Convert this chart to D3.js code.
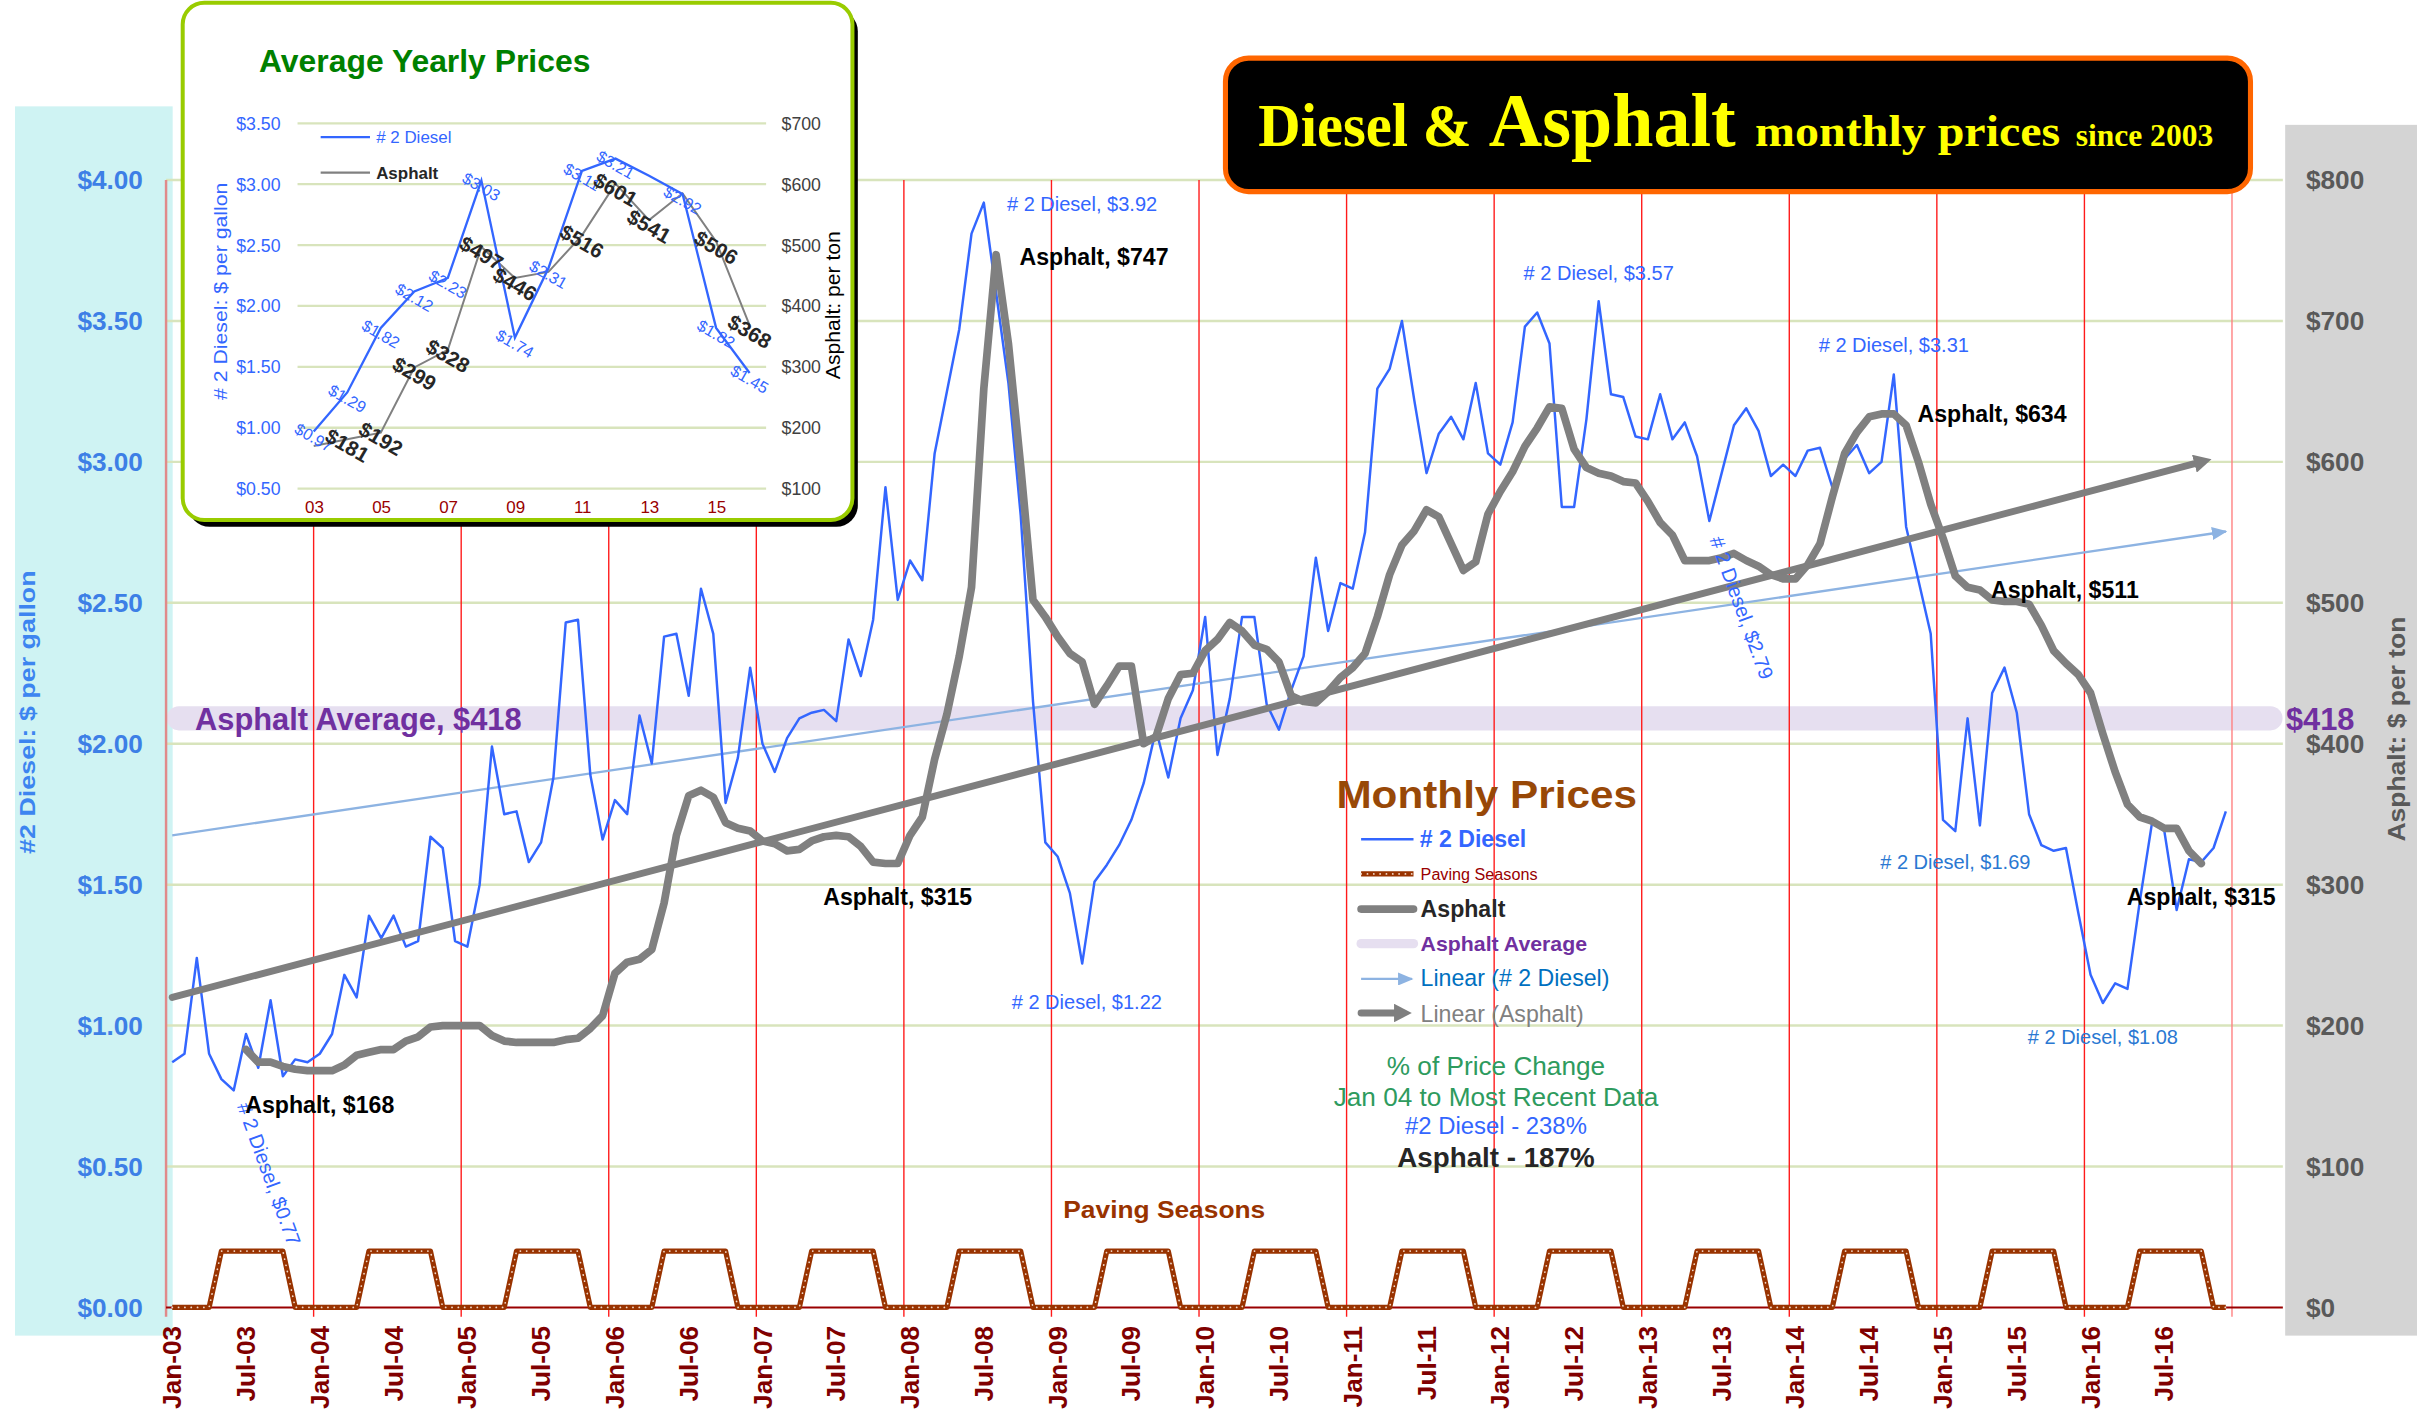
<!DOCTYPE html>
<html>
<head>
<meta charset="utf-8">
<title>Diesel &amp; Asphalt monthly prices since 2003</title>
<script src="https://cdn.jsdelivr.net/npm/d3@7"></script>
<style>
  body { margin: 0; background: #fff; }
  svg text { font-family: "Liberation Sans", Arial, sans-serif; }
</style>
</head>
<body>
<svg id="chart"></svg>
<script>
// #2 diesel, $ per gallon, one value a month, Jan-03 .. Dec-16
var diesel = [
  0.87, 0.90, 1.24, 0.90, 0.81, 0.77, 0.97, 0.85, 1.09, 0.82, 0.88, 0.87, // 2003
  0.90, 0.97, 1.18, 1.10, 1.39, 1.31, 1.39, 1.28, 1.30, 1.67, 1.63, 1.30, // 2004
  1.28, 1.50, 1.99, 1.75, 1.76, 1.58, 1.65, 1.88, 2.43, 2.44, 1.89, 1.66, // 2005
  1.80, 1.75, 2.10, 1.93, 2.38, 2.39, 2.17, 2.55, 2.39, 1.79, 1.95, 2.27, // 2006
  2.00, 1.90, 2.02, 2.09, 2.11, 2.12, 2.08, 2.37, 2.24, 2.44, 2.91, 2.51, // 2007
  2.65, 2.58, 3.03, 3.25, 3.47, 3.81, 3.92, 3.60, 3.28, 2.81, 2.15, 1.65, // 2008
  1.60, 1.47, 1.22, 1.51, 1.57, 1.64, 1.73, 1.86, 2.05, 1.88, 2.09, 2.19, // 2009
  2.45, 1.96, 2.16, 2.45, 2.45, 2.14, 2.05, 2.19, 2.31, 2.66, 2.40, 2.57, // 2010
  2.55, 2.75, 3.26, 3.33, 3.50, 3.22, 2.96, 3.10, 3.16, 3.08, 3.28, 3.03, // 2011
  2.99, 3.14, 3.48, 3.53, 3.42, 2.84, 2.84, 3.15, 3.57, 3.24, 3.23, 3.09, // 2012
  3.08, 3.24, 3.08, 3.14, 3.02, 2.79, 2.96, 3.13, 3.19, 3.11, 2.95, 2.99, // 2013
  2.95, 3.04, 3.05, 2.91, 3.01, 3.06, 2.96, 3.00, 3.31, 2.77, 2.58, 2.39, // 2014
  1.73, 1.69, 2.09, 1.71, 2.18, 2.27, 2.11, 1.75, 1.64, 1.62, 1.63, 1.40, // 2015
  1.18, 1.08, 1.15, 1.13, 1.44, 1.72, 1.69, 1.41, 1.59, 1.58, 1.63, 1.76  // 2016
];

// asphalt, $ per ton, starts Jul-03 (month index 6), ends Oct-16
var asphaltStart = 6;
var asphalt = [
                                183, 174, 174, 171, 169, 168, // 2003
  168, 168, 172, 179, 181, 183, 183, 189, 192, 199, 200, 200, // 2004
  200, 200, 193, 189, 188, 188, 188, 188, 190, 191, 198, 207, // 2005
  237, 245, 247, 254, 287, 335, 363, 367, 362, 344, 340, 338, // 2006
  331, 329, 324, 325, 331, 334, 335, 334, 327, 316, 315, 315, // 2007
  335, 348, 389, 421, 462, 511, 652, 747, 684, 597, 502, 490, // 2008
  476, 464, 458, 428, 441, 455, 455, 400, 405, 432, 449, 450, // 2009
  466, 474, 486, 480, 470, 467, 458, 434, 430, 429, 437, 447, // 2010
  454, 464, 490, 520, 541, 551, 566, 561, 542, 523, 529, 563, // 2011
  579, 593, 611, 624, 639, 638, 609, 596, 592, 590, 586, 585, // 2012
  572, 557, 548, 530, 530, 530, 532, 535, 530, 526, 520, 517, // 2013
  517, 527, 542, 575, 606, 621, 632, 634, 634, 626, 600, 570, // 2014
  546, 519, 511, 509, 502, 501, 501, 499, 484, 466, 457, 449, // 2015
  436, 407, 380, 357, 348, 345, 340, 340, 324, 315            // 2016
];

// paving seasons marker ($0.20 while paving, May..Oct)
var paving = [
  0, 0, 0, 0, 0.2, 0.2, 0.2, 0.2, 0.2, 0.2, 0, 0,
  0, 0, 0, 0, 0.2, 0.2, 0.2, 0.2, 0.2, 0.2, 0, 0,
  0, 0, 0, 0, 0.2, 0.2, 0.2, 0.2, 0.2, 0.2, 0, 0,
  0, 0, 0, 0, 0.2, 0.2, 0.2, 0.2, 0.2, 0.2, 0, 0,
  0, 0, 0, 0, 0.2, 0.2, 0.2, 0.2, 0.2, 0.2, 0, 0,
  0, 0, 0, 0, 0.2, 0.2, 0.2, 0.2, 0.2, 0.2, 0, 0,
  0, 0, 0, 0, 0.2, 0.2, 0.2, 0.2, 0.2, 0.2, 0, 0,
  0, 0, 0, 0, 0.2, 0.2, 0.2, 0.2, 0.2, 0.2, 0, 0,
  0, 0, 0, 0, 0.2, 0.2, 0.2, 0.2, 0.2, 0.2, 0, 0,
  0, 0, 0, 0, 0.2, 0.2, 0.2, 0.2, 0.2, 0.2, 0, 0,
  0, 0, 0, 0, 0.2, 0.2, 0.2, 0.2, 0.2, 0.2, 0, 0,
  0, 0, 0, 0, 0.2, 0.2, 0.2, 0.2, 0.2, 0.2, 0, 0,
  0, 0, 0, 0, 0.2, 0.2, 0.2, 0.2, 0.2, 0.2, 0, 0,
  0, 0, 0, 0, 0.2, 0.2, 0.2, 0.2, 0.2, 0.2, 0, 0
];

var asphaltAverage = 418;
// linear trend ends [month index, value]
var dieselTrend = [[0, 1.675], [167, 2.753]];
var asphaltTrend = [[0, 220], [165, 600]];

// inset: average yearly prices
var years = [2003, 2004, 2005, 2006, 2007, 2008, 2009, 2010, 2011, 2012, 2013, 2014, 2015, 2016];
var dieselYear = [0.97, 1.29, 1.82, 2.12, 2.23, 3.03, 1.74, 2.31, 3.11, 3.21, 3.07, 2.92, 1.82, 1.45];
var asphaltYear = [170, 181, 192, 299, 328, 497, 446, 456, 516, 601, 541, 585, 506, 368];
var dieselYearShown = [2003, 2004, 2005, 2006, 2007, 2008, 2009, 2010, 2011, 2012, 2014, 2015, 2016];
var asphaltYearShown = [2004, 2005, 2006, 2007, 2008, 2009, 2011, 2012, 2013, 2015, 2016];

var W = 1568, H = 918;
var svg = d3.select("#chart")
  .attr("width", 2417).attr("height", 1415)
  .attr("viewBox", "0 0 " + W + " " + H);

var x = d3.scaleLinear().domain([0, 168]).range([107.7, 1448]);
var yL = d3.scaleLinear().domain([0, 4]).range([848.2, 116.8]);
var yR = d3.scaleLinear().domain([0, 800]).range([848.2, 116.8]);
function mid(i) { return x(i + 0.5); }

var defs = svg.append("defs");
function arrow(id, color, w, h, refX) {
  defs.append("marker").attr("id", id)
    .attr("viewBox", "0 0 10 10").attr("preserveAspectRatio", "none")
    .attr("markerUnits", "userSpaceOnUse")
    .attr("markerWidth", w).attr("markerHeight", h)
    .attr("refX", refX).attr("refY", 5).attr("orient", "auto")
    .append("path").attr("d", "M0,0L10,5L0,10Z").attr("fill", color);
}
arrow("arrBlue", "#8db3e2", 10, 8.5, 9);
arrow("arrGray", "#7f7f7f", 11.5, 12, 4);

function txt(g, px, py, s, size, color, weight, anchor) {
  return g.append("text").attr("x", px).attr("y", py).text(s)
    .attr("font-size", size).attr("fill", color)
    .attr("font-weight", weight || "normal")
    .attr("text-anchor", anchor || "start");
}

// side panels
svg.append("rect").attr("x", 9.7).attr("y", 69).attr("width", 102.3).attr("height", 797.5).attr("fill", "#cff3f3");
svg.append("rect").attr("x", 1482.5).attr("y", 81).attr("width", 86).attr("height", 785.5).attr("fill", "#d4d4d4");

// horizontal grid
svg.append("g").selectAll("line")
  .data(d3.range(0.5, 4.01, 0.5))
  .enter().append("line")
  .attr("x1", x(0)).attr("x2", 1481)
  .attr("y1", function(d) { return yL(d); })
  .attr("y2", function(d) { return yL(d); })
  .attr("stroke", "#d8e4bc").attr("stroke-width", 1.6);

// asphalt average band
svg.append("line")
  .attr("x1", 116).attr("x2", 1473)
  .attr("y1", yR(asphaltAverage)).attr("y2", yR(asphaltAverage))
  .attr("stroke", "#e6dff0").attr("stroke-width", 15.6).attr("stroke-linecap", "round");

// yearly red lines
svg.append("g").selectAll("line")
  .data(d3.range(0, 169, 12))
  .enter().append("line")
  .attr("x1", function(d) { return x(d); })
  .attr("x2", function(d) { return x(d); })
  .attr("y1", yL(4)).attr("y2", yL(0) + 6)
  .attr("stroke", function(d) { return d === 0 ? "#e08a8a" : (d === 168 ? "#ff8080" : "#ff1a1a"); })
  .attr("stroke-width", function(d) { return d === 0 ? 1.6 : 0.9; });

// baseline
svg.append("line").attr("x1", x(0)).attr("x2", 1481)
  .attr("y1", yL(0)).attr("y2", yL(0))
  .attr("stroke", "#990000").attr("stroke-width", 1.3);

// axes
var axL = svg.append("g").attr("transform", "translate(" + x(0) + ",0)")
  .call(d3.axisLeft(yL).tickValues(d3.range(0, 4.01, 0.5)).tickFormat(d3.format("$.2f")).tickSize(0).tickPadding(15));
axL.select(".domain").remove();
axL.selectAll("text").attr("font-size", 17).attr("font-weight", "bold").attr("fill", "#3d7fe6");

var axR = svg.append("g").attr("transform", "translate(1482,0)")
  .call(d3.axisRight(yR).tickValues(d3.range(0, 801, 100)).tickFormat(function(d) { return "$" + d; }).tickSize(0).tickPadding(14));
axR.select(".domain").remove();
axR.selectAll("text").attr("font-size", 17).attr("font-weight", "bold").attr("fill", "#595959");

var monthFmt = d3.timeFormat("%b-%y");
var axB = svg.append("g").attr("transform", "translate(0," + yL(0) + ")")
  .call(d3.axisBottom(x).tickValues(d3.range(0, 168, 6))
    .tickFormat(function(m) { return monthFmt(new Date(2003, m, 1)); }).tickSize(0));
axB.select(".domain").remove();
axB.selectAll("text")
  .attr("transform", "rotate(-90)")
  .attr("x", -12).attr("y", 0).attr("dy", "0.55em")
  .style("text-anchor", "end")
  .attr("font-size", 17).attr("font-weight", "bold").attr("fill", "#800000");

// axis titles
svg.append("text").attr("transform", "translate(22.5,462) rotate(-90)")
  .attr("text-anchor", "middle").attr("font-size", 14.5).attr("font-weight", "bold")
  .attr("fill", "#3d85f0").attr("textLength", 184).attr("lengthAdjust", "spacingAndGlyphs")
  .text("#2 Diesel: $ per gallon");
svg.append("text").attr("transform", "translate(1560,473) rotate(-90)")
  .attr("text-anchor", "middle").attr("font-size", 15).attr("font-weight", "bold")
  .attr("fill", "#595959").attr("textLength", 146).attr("lengthAdjust", "spacingAndGlyphs")
  .text("Asphalt: $ per ton");

// trend lines
var trendD = d3.line().x(function(d) { return mid(d[0]); }).y(function(d) { return yL(d[1]); });
var trendA = d3.line().x(function(d) { return mid(d[0]); }).y(function(d) { return yR(d[1]); });
svg.append("path").attr("d", trendD(dieselTrend))
  .attr("fill", "none").attr("stroke", "#8db3e2").attr("stroke-width", 1.5)
  .attr("marker-end", "url(#arrBlue)");

// diesel
var lineD = d3.line().x(function(d, i) { return mid(i); }).y(function(d) { return yL(d); });
svg.append("path").attr("d", lineD(diesel))
  .attr("fill", "none").attr("stroke", "#3366ff").attr("stroke-width", 1.6).attr("stroke-linejoin", "round");

// paving seasons
svg.append("path").attr("d", lineD(paving))
  .attr("fill", "none").attr("stroke", "#993300").attr("stroke-width", 3.4).attr("stroke-linejoin", "round");
svg.append("path").attr("d", lineD(paving))
  .attr("fill", "none").attr("stroke", "#f2d9c9").attr("stroke-width", 1.1)
  .attr("stroke-dasharray", "0.1,4").attr("stroke-linecap", "round");

svg.append("path").attr("d", trendA(asphaltTrend))
  .attr("fill", "none").attr("stroke", "#7f7f7f").attr("stroke-width", 4.5)
  .attr("stroke-linecap", "round").attr("marker-end", "url(#arrGray)");

// asphalt
var lineA = d3.line().x(function(d, i) { return mid(i + asphaltStart); }).y(function(d) { return yR(d); });
svg.append("path").attr("d", lineA(asphalt))
  .attr("fill", "none").attr("stroke", "#808080").attr("stroke-width", 5)
  .attr("stroke-linejoin", "round").attr("stroke-linecap", "round");

// point labels
function dVal(i) { return diesel[i]; }
function aVal(i) { return asphalt[i - asphaltStart]; }
var money2 = d3.format("$.2f");
var dlab = svg.append("g");
function dieselNote(i, dx, dy, anchor, color, rot) {
  var t = txt(dlab, 0, 0, "# 2 Diesel, " + money2(dVal(i)), 13, color || "#3366ff", "normal", anchor);
  var tr = "translate(" + (mid(i) + dx) + "," + (yL(dVal(i)) + dy) + ")";
  if (rot) tr += " rotate(" + rot + ")";
  t.attr("transform", tr);
}
function asphaltNote(i, dx, dy, anchor) {
  txt(dlab, mid(i) + dx, yR(aVal(i)) + dy, "Asphalt, $" + aVal(i), 15, "#000", "bold", anchor);
}
dieselNote(66, 15, 5.6, "start");
dieselNote(116, 0, -14, "middle");
dieselNote(140, 0, -14.6, "middle");
dieselNote(125, 0, 12, "start", null, 70);
dieselNote(145, 0, 24.6, "middle", "#2a78d2");
dieselNote(157, 0, 26.6, "middle", "#2a78d2");
dieselNote(74, 3, 29.5, "middle");
dieselNote(5, 2, 10, "start", null, 70);
asphaltNote(67, 15.2, 6.8, "start");
asphaltNote(140, 15.4, 5.4, "start");
asphaltNote(146, 15.2, 6.7, "start");
asphaltNote(165, 0, 26.8, "middle");
asphaltNote(59, 0, 26.8, "middle");
asphaltNote(12, 0, 27.2, "middle");

svg.append("text").attr("x", 689.8).attr("y", 790.3).text("Paving Seasons")
  .attr("font-size", 16).attr("font-weight", "bold").attr("fill", "#993300")
  .attr("textLength", 131).attr("lengthAdjust", "spacingAndGlyphs");

txt(svg, 126.5, 473.3, "Asphalt Average, $" + asphaltAverage, 20, "#7030a0", "bold");
txt(svg, 1483, 473.3, "$" + asphaltAverage, 20, "#7030a0", "bold");

// legend
var lg = svg.append("g");
lg.append("text").attr("x", 867).attr("y", 524.4).text("Monthly Prices")
  .attr("font-size", 25).attr("font-weight", "bold").attr("fill", "#984807")
  .attr("textLength", 195).attr("lengthAdjust", "spacingAndGlyphs");
function legLine(y, color, w, cap) {
  return lg.append("line").attr("x1", 883).attr("x2", 917).attr("y1", y).attr("y2", y)
    .attr("stroke", color).attr("stroke-width", w).attr("stroke-linecap", cap || "butt");
}
legLine(544.5, "#3366ff", 1.6);
txt(lg, 921, 549.7, "# 2 Diesel", 15, "#3366ff", "bold");
legLine(567, "#993300", 3.4);
legLine(567, "#f2d9c9", 1.1, "round").attr("stroke-dasharray", "0.1,4");
txt(lg, 921.6, 570.9, "Paving Seasons", 10.5, "#990000");
legLine(589.8, "#808080", 5, "round");
txt(lg, 921.6, 594.7, "Asphalt", 15, "#262626", "bold");
legLine(612.2, "#e6dff0", 6, "round");
lg.append("text").attr("x", 921.6).attr("y", 616.7).text("Asphalt Average")
  .attr("font-size", 13).attr("font-weight", "bold").attr("fill", "#7030a0")
  .attr("textLength", 108).attr("lengthAdjust", "spacingAndGlyphs");
lg.append("line").attr("x1", 883).attr("x2", 916).attr("y1", 635.1).attr("y2", 635.1)
  .attr("stroke", "#8db3e2").attr("stroke-width", 1.5).attr("marker-end", "url(#arrBlue)");
txt(lg, 921.6, 640, "Linear (# 2 Diesel)", 15, "#0070c0");
lg.append("line").attr("x1", 883).attr("x2", 909).attr("y1", 657.2).attr("y2", 657.2)
  .attr("stroke", "#7f7f7f").attr("stroke-width", 4.5).attr("stroke-linecap", "round")
  .attr("marker-end", "url(#arrGray)");
txt(lg, 921.6, 662.8, "Linear (Asphalt)", 15, "#808080");

txt(lg, 970.5, 697.4, "% of Price Change", 17, "#2e9b5e", "normal", "middle");
txt(lg, 970.5, 717.3, "Jan 04 to Most Recent Data", 17, "#2e9b5e", "normal", "middle");
txt(lg, 970.5, 735.5, "#2 Diesel - 238%", 15.5, "#3366ff", "normal", "middle");
txt(lg, 970.5, 757, "Asphalt - 187%", 18, "#262626", "bold", "middle");

// title box
svg.append("rect").attr("x", 795).attr("y", 37.7).attr("width", 665).attr("height", 86.6)
  .attr("rx", 15).attr("fill", "#000").attr("stroke", "#ff6600").attr("stroke-width", 3.3);
var tg = svg.append("g");
[["Diesel &", 816.3, 138.4, 39.5], ["Asphalt", 965.8, 160.2, 50],
 ["monthly prices", 1138.6, 198, 29], ["since 2003", 1346.6, 89.2, 20]].forEach(function(p) {
  tg.append("text").attr("x", p[1]).attr("y", 94.7).text(p[0])
    .style("font-family", "'Liberation Serif', 'Times New Roman', serif")
    .attr("font-size", p[3]).attr("font-weight", "bold").attr("fill", "#ffff00")
    .attr("textLength", p[2]).attr("lengthAdjust", "spacingAndGlyphs");
});

// inset
var gi = svg.append("g");
gi.append("rect").attr("x", 122).attr("y", 6.3).attr("width", 434.5).attr("height", 335.5)
  .attr("rx", 14).attr("fill", "#000");
gi.append("rect").attr("x", 118.5).attr("y", 1.8).attr("width", 434.5).attr("height", 335.5)
  .attr("rx", 14).attr("fill", "#fff").attr("stroke", "#99cc00").attr("stroke-width", 2.6);

var xI = d3.scaleLinear().domain([2003, 2016]).range([203.5, 486.3]);
var yIL = d3.scaleLinear().domain([0.5, 3.5]).range([317, 80]);
var yIR = d3.scaleLinear().domain([100, 700]).range([317, 80]);

gi.append("g").selectAll("line").data(d3.range(0.5, 3.51, 0.5)).enter().append("line")
  .attr("x1", 193).attr("x2", 497)
  .attr("y1", function(d) { return yIL(d); }).attr("y2", function(d) { return yIL(d); })
  .attr("stroke", "#d8e4bc").attr("stroke-width", 1.5);

var iL = gi.append("g").attr("transform", "translate(193,0)")
  .call(d3.axisLeft(yIL).tickValues(d3.range(0.5, 3.51, 0.5)).tickFormat(d3.format("$.2f")).tickSize(0).tickPadding(11));
iL.select(".domain").remove();
iL.selectAll("text").attr("font-size", 11.5).attr("fill", "#3366ff");
var iR = gi.append("g").attr("transform", "translate(497,0)")
  .call(d3.axisRight(yIR).tickValues(d3.range(100, 701, 100)).tickFormat(function(d) { return "$" + d; }).tickSize(0).tickPadding(10));
iR.select(".domain").remove();
iR.selectAll("text").attr("font-size", 11.5).attr("fill", "#404040");
var iB = gi.append("g").attr("transform", "translate(0,317)")
  .call(d3.axisBottom(xI).tickValues(d3.range(2003, 2016, 2)).tickFormat(function(d) { return String(d).slice(2); }).tickSize(0).tickPadding(8));
iB.select(".domain").remove();
iB.selectAll("text").attr("font-size", 11).attr("fill", "#990000");

txt(gi, 168, 47, "Average Yearly Prices", 20, "#008000", "bold")
  .attr("textLength", 215).attr("lengthAdjust", "spacingAndGlyphs");

gi.append("text").attr("transform", "translate(147.5,189) rotate(-90)")
  .attr("text-anchor", "middle").attr("font-size", 12).attr("fill", "#3366ff")
  .attr("textLength", 141).attr("lengthAdjust", "spacingAndGlyphs")
  .text("# 2 Diesel: $ per gallon");
gi.append("text").attr("transform", "translate(545,198) rotate(-90)")
  .attr("text-anchor", "middle").attr("font-size", 13).attr("fill", "#000")
  .attr("textLength", 96).attr("lengthAdjust", "spacingAndGlyphs")
  .text("Asphalt: per ton");

// inset legend
gi.append("line").attr("x1", 208).attr("x2", 240).attr("y1", 89).attr("y2", 89)
  .attr("stroke", "#3366ff").attr("stroke-width", 1.5);
txt(gi, 244, 93, "# 2 Diesel", 11, "#3366ff");
gi.append("line").attr("x1", 208).attr("x2", 240).attr("y1", 112).attr("y2", 112)
  .attr("stroke", "#808080").attr("stroke-width", 1.5);
txt(gi, 244, 116, "Asphalt", 11, "#262626", "bold");

var lineYD = d3.line().x(function(d, i) { return xI(years[i]); }).y(function(d) { return yIL(d); });
var lineYA = d3.line().x(function(d, i) { return xI(years[i]); }).y(function(d) { return yIR(d); });
gi.append("path").attr("d", lineYA(asphaltYear)).attr("fill", "none")
  .attr("stroke", "#808080").attr("stroke-width", 1.3);
gi.append("path").attr("d", lineYD(dieselYear)).attr("fill", "none")
  .attr("stroke", "#3366ff").attr("stroke-width", 1.5);

gi.append("g").selectAll("text").data(dieselYearShown).enter().append("text")
  .attr("transform", function(yr) {
    var i = years.indexOf(yr);
    return "translate(" + xI(yr) + "," + (yIL(dieselYear[i]) + 4) + ") rotate(30)";
  })
  .attr("text-anchor", "middle").attr("dy", "0.35em")
  .attr("font-size", 10.5).attr("fill", "#3366ff")
  .text(function(yr) { return money2(dieselYear[years.indexOf(yr)]); });
gi.append("g").selectAll("text").data(asphaltYearShown).enter().append("text")
  .attr("transform", function(yr) {
    var i = years.indexOf(yr);
    return "translate(" + xI(yr) + "," + (yIR(asphaltYear[i]) + 4) + ") rotate(30)";
  })
  .attr("text-anchor", "middle").attr("dy", "0.35em")
  .attr("font-size", 13.5).attr("font-weight", "bold").attr("fill", "#262626")
  .text(function(yr) { return "$" + asphaltYear[years.indexOf(yr)]; });
</script>
</body>
</html>
